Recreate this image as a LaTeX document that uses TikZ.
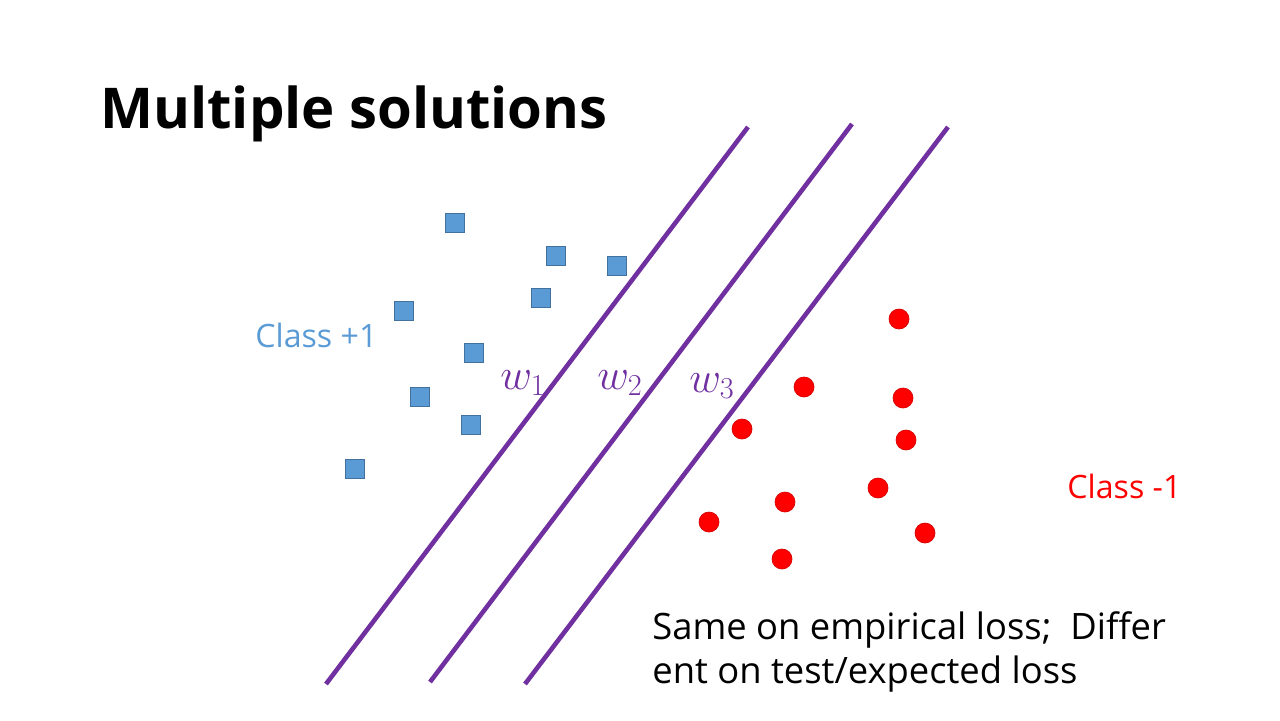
\documentclass[tikz,border=0pt]{standalone}
\usepackage{fontspec}
\setmainfont{Open Sans}
\usetikzlibrary{calc}
\definecolor{sepviolet}{HTML}{7030A0}
\definecolor{posblue}{HTML}{5B9BD5}
\definecolor{posedge}{HTML}{41719C}
\definecolor{negred}{HTML}{FF0000}

\begin{document}
\begin{tikzpicture}[x=0.02cm,y=-0.02cm,
  possample/.style={draw=posedge,fill=posblue,line width=0.5pt,minimum size=0.38cm,inner sep=0},
  negsample/.style={circle,fill=negred,draw=negred!85!black,line width=0.4pt,minimum size=0.4cm,inner sep=0},
  separator/.style={sepviolet,line width=2.6pt},
  wlabel/.style={text=sepviolet,font=\fontsize{25}{28}\selectfont,inner sep=0}]
  \useasboundingbox (0,0) rectangle (1280,720);

  % title
  \node[anchor=base west,inner sep=0,font=\fontsize{32}{36}\selectfont\bfseries] (title) at (100,128) {Multiple solutions};

  % three separating lines
  \foreach \xa/\ya/\xb/\yb [count=\i] in {326/684/748/127, 430/682/852/124, 525/684/948/127}{
    \coordinate (s\i) at (\xa,\ya);
    \coordinate (e\i) at (\xb,\yb);
    \draw[separator] (s\i) -- (e\i);
  }
  \node[wlabel] (w1) at (523,383) {$w_1$};
  \node[wlabel] (w2) at (620,383) {$w_2$};
  \node[wlabel] (w3) at (712,386) {$w_3$};

  % class +1 samples
  \foreach \x/\y [count=\i] in {455/223, 556/256, 617/266, 541/298, 404/311, 474/353, 420/397, 471/425, 355/469}
    \node[possample] (p\i) at (\x,\y) {};

  % class -1 samples
  \foreach \x/\y [count=\i] in {899/319, 804/387, 903/398, 742/429, 906/440, 878/488, 785/502, 709/522, 925/533, 782/559}
    \node[negsample] (n\i) at (\x,\y) {};

  \node[anchor=base west,inner sep=0,text=posblue,font=\fontsize{18.3}{22}\selectfont] (cpos) at (255,347) {Class +1};
  \node[anchor=base west,inner sep=0,text=negred,font=\fontsize{18.3}{22}\selectfont] (cneg) at (1067,498) {Class -1};

  \node[anchor=base west,inner sep=0,align=left,font=\fontsize{20.7}{24.5}\selectfont] (note) at (652,683)
    {Same on empirical loss;~ Differ\\ent on test/expected loss};
\end{tikzpicture}
\end{document}
